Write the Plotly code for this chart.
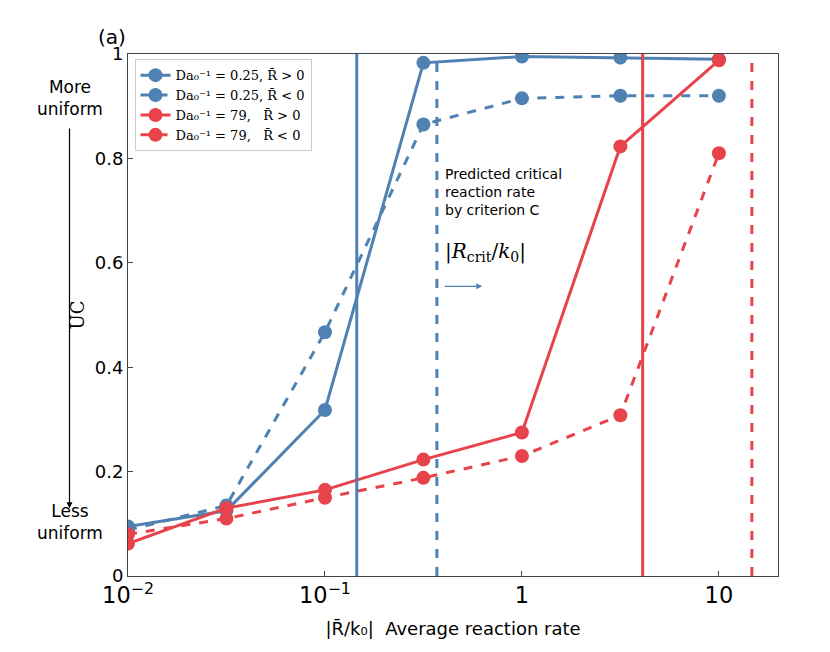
import plotly.graph_objects as go

rates = [0.01, 0.0316, 0.1, 0.316, 1, 3.16, 10]
blue_pos = [0.095, 0.125, 0.318, 0.983, 0.995, 0.993, 0.99]
blue_neg = [0.088, 0.135, 0.467, 0.865, 0.915, 0.92, 0.92]
red_pos = [0.062, 0.13, 0.165, 0.223, 0.275, 0.823, 0.988]
red_neg = [0.08, 0.11, 0.15, 0.188, 0.23, 0.308, 0.81]
crit = {"blue_pos": 0.145, "blue_neg": 0.37, "red_pos": 4.1, "red_neg": 14.7}

BLUE = "#4F81B3"
RED = "#E8434A"

fig = go.Figure()
series = [
    ("Da₀⁻¹ = 0.25, R̄ > 0", blue_pos, BLUE, "solid"),
    ("Da₀⁻¹ = 0.25, R̄ < 0", blue_neg, BLUE, "dash"),
    ("Da₀⁻¹ = 79,   R̄ > 0", red_pos, RED, "solid"),
    ("Da₀⁻¹ = 79,   R̄ < 0", red_neg, RED, "dash"),
]
for name, ys, c, d in series:
    fig.add_trace(go.Scatter(x=rates, y=ys, name=name, mode="lines+markers",
                             line=dict(color=c, width=3, dash=d),
                             marker=dict(size=14, color=c)))

for key, c, d in [("blue_pos", BLUE, "solid"), ("blue_neg", BLUE, "dash"),
                  ("red_pos", RED, "solid"), ("red_neg", RED, "dash")]:
    fig.add_shape(type="line", x0=crit[key], x1=crit[key], y0=0, y1=1,
                  xref="x", yref="y", line=dict(color=c, width=3, dash=d))

font = dict(family="DejaVu Sans", size=14, color="black")
fig.add_annotation(x=0.0, y=1.06, xref="paper", yref="paper", text="(a)",
                   showarrow=False, font=dict(size=20, family="DejaVu Sans"), xanchor="right")
fig.add_annotation(x=-0.09, y=0.96, xref="paper", yref="paper", text="More<br>uniform",
                   showarrow=False, font=dict(size=17), xanchor="center")
fig.add_annotation(x=-0.09, y=0.06, xref="paper", yref="paper", text="Less<br>uniform",
                   showarrow=False, font=dict(size=17), xanchor="center")
fig.add_annotation(x=-0.09, y=0.13, ax=-0.09, ay=0.86, xref="x domain", yref="y domain",
                   axref="x domain", ayref="y domain", text="", showarrow=True,
                   arrowhead=2, arrowwidth=1.2, arrowcolor="black")
fig.add_annotation(x=0.485, y=0.79, xref="paper", yref="paper",
                   text="Predicted critical<br>reaction rate<br>by criterion C",
                   showarrow=False, align="left", xanchor="left", yanchor="top", font=font)
fig.add_annotation(x=0.485, y=0.62, xref="paper", yref="paper",
                   text="|<i>R</i><sub>crit</sub>/<i>k</i><sub>0</sub>|",
                   showarrow=False, xanchor="left", font=dict(family="DejaVu Serif", size=20))
fig.add_annotation(x=0.545, y=0.555, ax=0.485, ay=0.555, xref="x domain", yref="y domain",
                   axref="x domain", ayref="y domain", text="", showarrow=True,
                   arrowhead=2, arrowwidth=1.2, arrowcolor=BLUE)

fig.update_layout(
    width=830, height=652, plot_bgcolor="white", paper_bgcolor="white",
    margin=dict(l=120, r=60, t=46, b=84),
    font=dict(family="DejaVu Sans", size=18, color="black"),
    legend=dict(x=0.01, y=0.99, xanchor="left", yanchor="top",
                bgcolor="white", bordercolor="#ccc", borderwidth=1,
                font=dict(family="DejaVu Serif", size=13)),
    xaxis=dict(type="log", range=[-2, 1.3], dtick=1, exponentformat="power",
               showline=True, mirror=True, linecolor="#444", linewidth=1,
               ticks="inside", showgrid=False,
               title=dict(text="|R̄/k₀|  Average reaction rate", font=dict(size=18))),
    yaxis=dict(range=[0, 1], showline=True, mirror=True,
               linecolor="#444", linewidth=1, ticks="inside", showgrid=False,
               tickvals=[0, 0.2, 0.4, 0.6, 0.8, 1], ticktext=["0", "0.2", "0.4", "0.6", "0.8", "1"],
               title=dict(text="UC", font=dict(family="DejaVu Serif", size=18), standoff=5)),
)
fig.write_html("out.html")
